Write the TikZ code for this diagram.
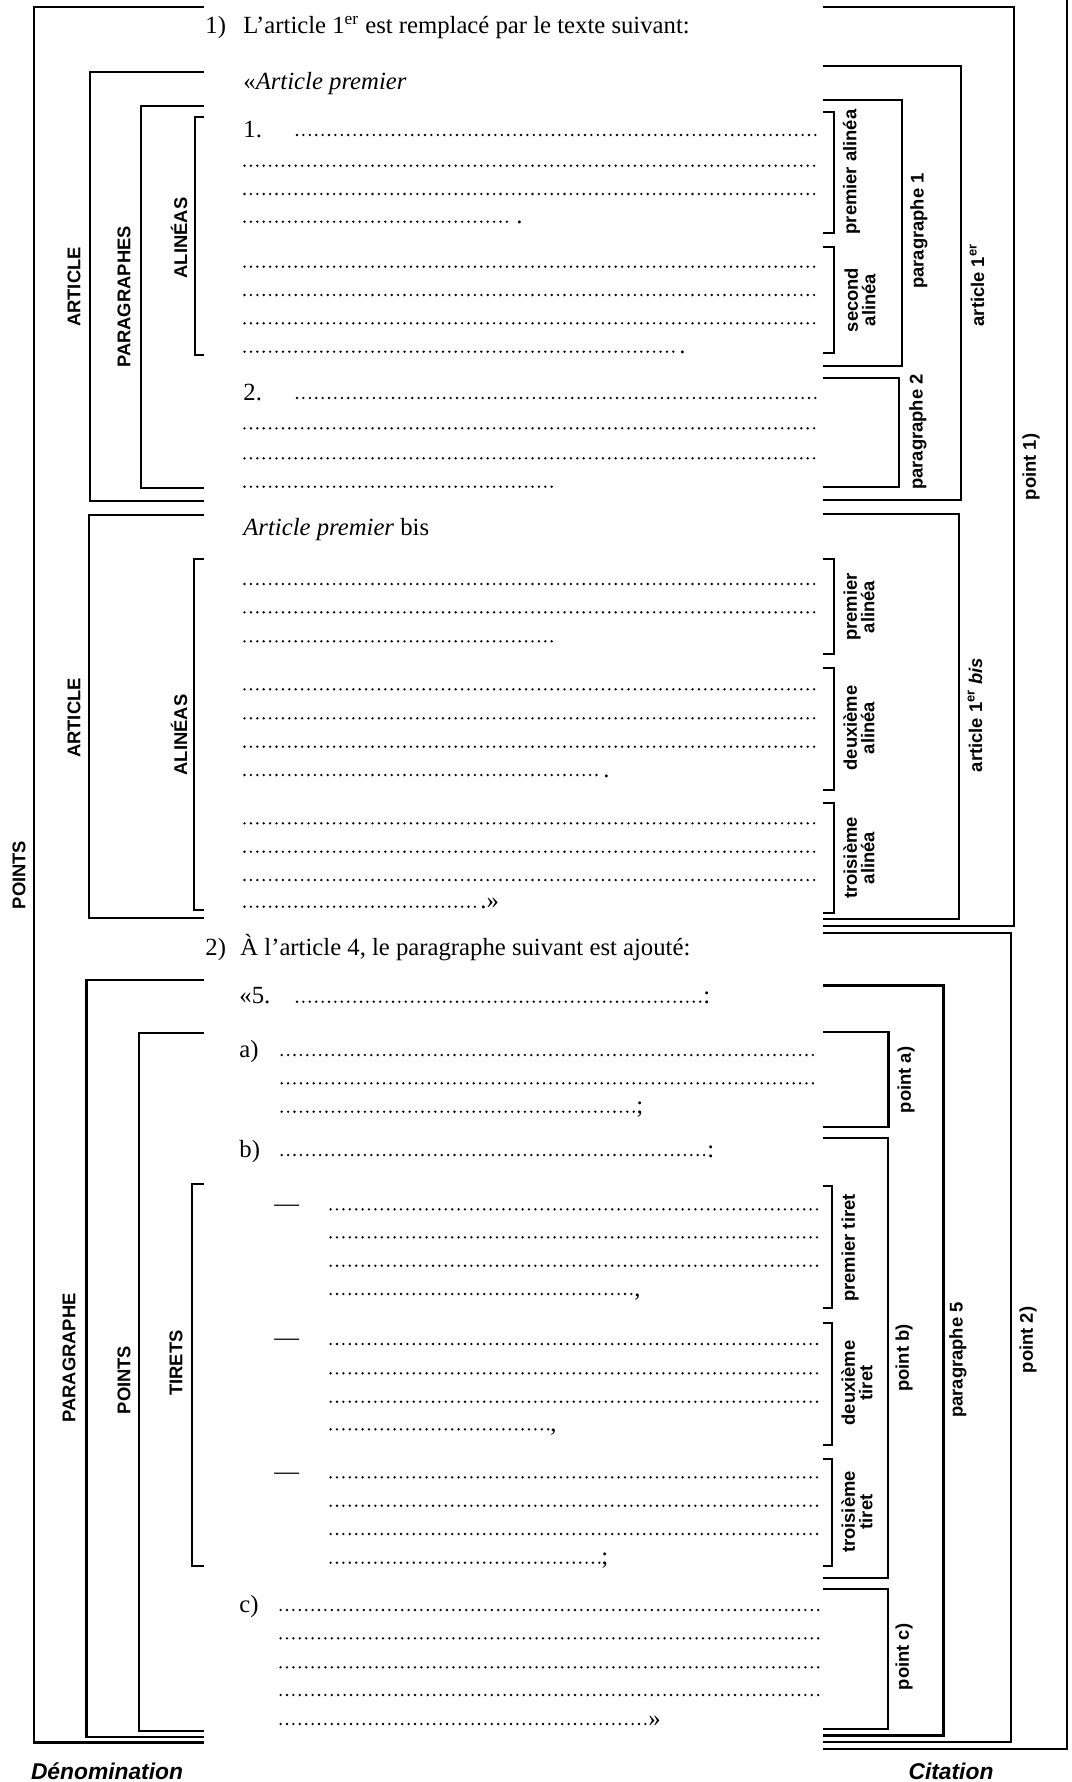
\documentclass[tikz,border=0pt]{standalone}
\usepackage{fontspec}
\setmainfont{Liberation Serif}
\setsansfont{Liberation Sans}

% bracket opening to the right (left column) and to the left (right column)
\newcommand\LeftBrk[3]{\draw[brk] (204,#2) -| (#1,#3) -- (204,#3);}
\newcommand\RightBrk[3]{\draw[brk] (823,#2) -| (#1,#3) -- (823,#3);}
% a row of leader dots: start x, end x, y (dot pitch 6.4 units)
\newcommand\Lead[3]{\draw[lead] (#1,#3) -- (#2,#3);}

\tikzset{
  brk/.style={line width=1.1pt, line join=miter},
  lead/.style={line width=1.3pt, line cap=round, dash pattern=on 0pt off 3.2pt},
  body/.style={font=\fontsize{12.35}{14}\selectfont, inner sep=0pt, anchor=base west},
  lab/.style={font=\sffamily\bfseries\fontsize{9.2}{8.8}\selectfont, rotate=90, inner sep=0pt, align=center},
  foot/.style={font=\sffamily\bfseries\itshape\fontsize{11.4}{13}\selectfont, inner sep=0pt},
}

\begin{document}
\begin{tikzpicture}[x=0.5pt, y=-0.5pt]
\path[use as bounding box] (0,0) rectangle (1071,1782);
\clip (0,0) rectangle (1071,1782);
\fill[white] (0,0) rectangle (1071,1782);

% ---------- left column: denominations ----------
\LeftBrk{34}{7.3}{1742.5}
\LeftBrk{90}{71.7}{501}
\LeftBrk{141}{106}{488}
\LeftBrk{195}{117.3}{355}
\LeftBrk{89}{515}{918.3}
\LeftBrk{194}{559}{910}
\LeftBrk{86.5}{980}{1737}
\LeftBrk{139}{1033.3}{1731}
\LeftBrk{192}{1184}{1565.7}

\node[lab] (dPoints)  at (19,875)   {POINTS};
\node[lab] (dArt1)    at (74,287)   {ARTICLE};
\node[lab] (dPars)    at (124,297)  {PARAGRAPHES};
\node[lab] (dAlin1)   at (179,238)  {ALINÉAS};
\node[lab] (dArt2)    at (74,718)   {ARTICLE};
\node[lab] (dAlin2)   at (179,735)  {ALINÉAS};
\node[lab] (dPar)     at (69,1358)  {PARAGRAPHE};
\node[lab] (dPts)     at (124,1380) {POINTS};
\node[lab] (dTirets)  at (176,1363) {TIRETS};
\node[foot] (denom)   at (107,1771) {Dénomination};

% ---------- right column: citations ----------
\draw[brk] (1067,-10) -- (1067,1749) -- (823,1749);
\RightBrk{1014}{7.3}{926}
\RightBrk{961}{66}{500}
\RightBrk{902}{100}{365.7}
\RightBrk{834}{111.7}{233.3}
\RightBrk{834}{247.3}{353.3}
\RightBrk{899}{377.7}{486.7}
\RightBrk{959}{514.3}{919}
\RightBrk{834}{559}{654.3}
\RightBrk{834}{668.3}{790}
\RightBrk{834}{803.3}{913.3}
\RightBrk{1011}{933.3}{1742}
\RightBrk{943.5}{985.5}{1735.5}
\RightBrk{888.5}{1032.3}{1126.7}
\RightBrk{888}{1138.3}{1578.3}
\RightBrk{832}{1185.7}{1308.3}
\RightBrk{832}{1322.7}{1445}
\RightBrk{832}{1459}{1565.7}
\RightBrk{888}{1589}{1729}

\node[lab] (cAl1)   at (851.5,172) {premier alinéa};
\node[lab] (cAl2)   at (860,300)   {second\\alinéa};
\node[lab] (cPar1)  at (919,231)   {paragraphe 1};
\node[lab] (cPar2)  at (918,432)   {paragraphe 2};
\node[lab] (cArt1)  at (977,285)   {article 1\textsuperscript{er}};
\node[lab] (cPt1)   at (1031,467)  {point 1)};
\node[lab] (cBAl1)  at (859,607)   {premier\\alinéa};
\node[lab] (cBAl2)  at (859,728)   {deuxième\\alinéa};
\node[lab] (cBAl3)  at (859,858)   {troisième\\alinéa};
\node[lab] (cArtB)  at (975,715)   {article 1\textsuperscript{er} \textit{bis}};
\node[lab] (cPtA)   at (906,1080)  {point a)};
\node[lab] (cT1)    at (850,1248)  {premier tiret};
\node[lab] (cT2)    at (857,1383)  {deuxième\\tiret};
\node[lab] (cT3)    at (857,1512)  {troisième\\tiret};
\node[lab] (cPtB)   at (904,1358)  {point b)};
\node[lab] (cPtC)   at (904,1657)  {point c)};
\node[lab] (cPar5)  at (958,1360)  {paragraphe 5};
\node[lab] (cPt2)   at (1028,1340) {point 2)};
\node[foot] (cit)   at (951,1771)  {Citation};

% ---------- the amending text ----------
\node[body] (n1)    at (205,33.5) {1)};
\node[body] (t1)    at (243,33.5) {L’article 1\textsuperscript{er} est remplacé par le texte suivant:};
\node[body] (hArt)  at (243,90)   {«\textit{Article premier}};
\node[body] (num1)  at (243,137)  {1.};
\Lead{297}{819}{135}
\Lead{244.5}{819}{165.7}
\Lead{244.5}{819}{194}
\Lead{244.5}{507}{221.7}
\node[body] (e1)    at (516,223.5) {.};
\Lead{244.5}{819}{266.7}
\Lead{244.5}{819}{295}
\Lead{244.5}{819}{323.3}
\Lead{244.5}{673.5}{351.7}
\node[body] (e2)    at (679,353.5) {.};
\node[body] (num2)  at (243,400)  {2.};
\Lead{297}{819}{398}
\Lead{244.5}{819}{428.3}
\Lead{244.5}{819}{458.3}
\Lead{244.5}{553.5}{486.7}

\node[body] (hBis)  at (243,535)  {\textit{Article premier} bis};
\Lead{244.5}{819}{584}
\Lead{244.5}{819}{612.3}
\Lead{244.5}{553.5}{641.3}
\Lead{244.5}{819}{689.3}
\Lead{244.5}{819}{718.3}
\Lead{244.5}{819}{746.7}
\Lead{244.5}{596.6}{775}
\node[body] (e3)    at (603,777)  {.};
\Lead{244.5}{819}{823.3}
\Lead{244.5}{819}{851.7}
\Lead{244.5}{819}{880}
\Lead{244.5}{475}{906.7}
\node[body] (e4)    at (480,908.5) {.»};

\node[body] (n2)    at (205,955)  {2)};
\node[body] (t2)    at (240,955)  {À l’article 4, le paragraphe suivant est ajouté:};
\node[body] (num5)  at (239,1003.5) {«5.};
\Lead{297}{700.3}{1001.7}
\node[body] (e5)    at (703,1003.5) {:};

\node[body] (pa)    at (239,1057) {a)};
\Lead{281.7}{819}{1055}
\Lead{281.7}{819}{1083.3}
\Lead{281.7}{633.8}{1111.7}
\node[body] (e6)    at (636,1113.5) {;};

\node[body] (pb)    at (239,1157) {b)};
\Lead{281.7}{704.2}{1155}
\node[body] (e7)    at (707,1157) {:};

\node[body] (d1)    at (274,1211) {—};
\Lead{330.6}{819}{1209.3}
\Lead{330.6}{819}{1237.3}
\Lead{330.6}{819}{1265.7}
\Lead{330.6}{631.5}{1294}
\node[body] (e8)    at (634,1296) {,};

\node[body] (d2)    at (274,1345) {—};
\Lead{330.6}{819}{1344}
\Lead{330.6}{819}{1373.3}
\Lead{330.6}{819}{1401.7}
\Lead{330.6}{548.3}{1429.3}
\node[body] (e9)    at (550,1431) {,};

\node[body] (d3)    at (274,1479) {—};
\Lead{330.6}{819}{1477.3}
\Lead{330.6}{819}{1505.7}
\Lead{330.6}{819}{1534}
\Lead{330.6}{599.5}{1562.7}
\node[body] (e10)   at (601,1564.5) {;};

\node[body] (pc)    at (239,1612) {c)};
\Lead{280.6}{819}{1610}
\Lead{280.6}{819}{1638.3}
\Lead{280.6}{819}{1667.3}
\Lead{280.6}{819}{1695}
\Lead{280.6}{645.5}{1724}
\node[body] (e11)   at (648,1726) {»};
\end{tikzpicture}
\end{document}
